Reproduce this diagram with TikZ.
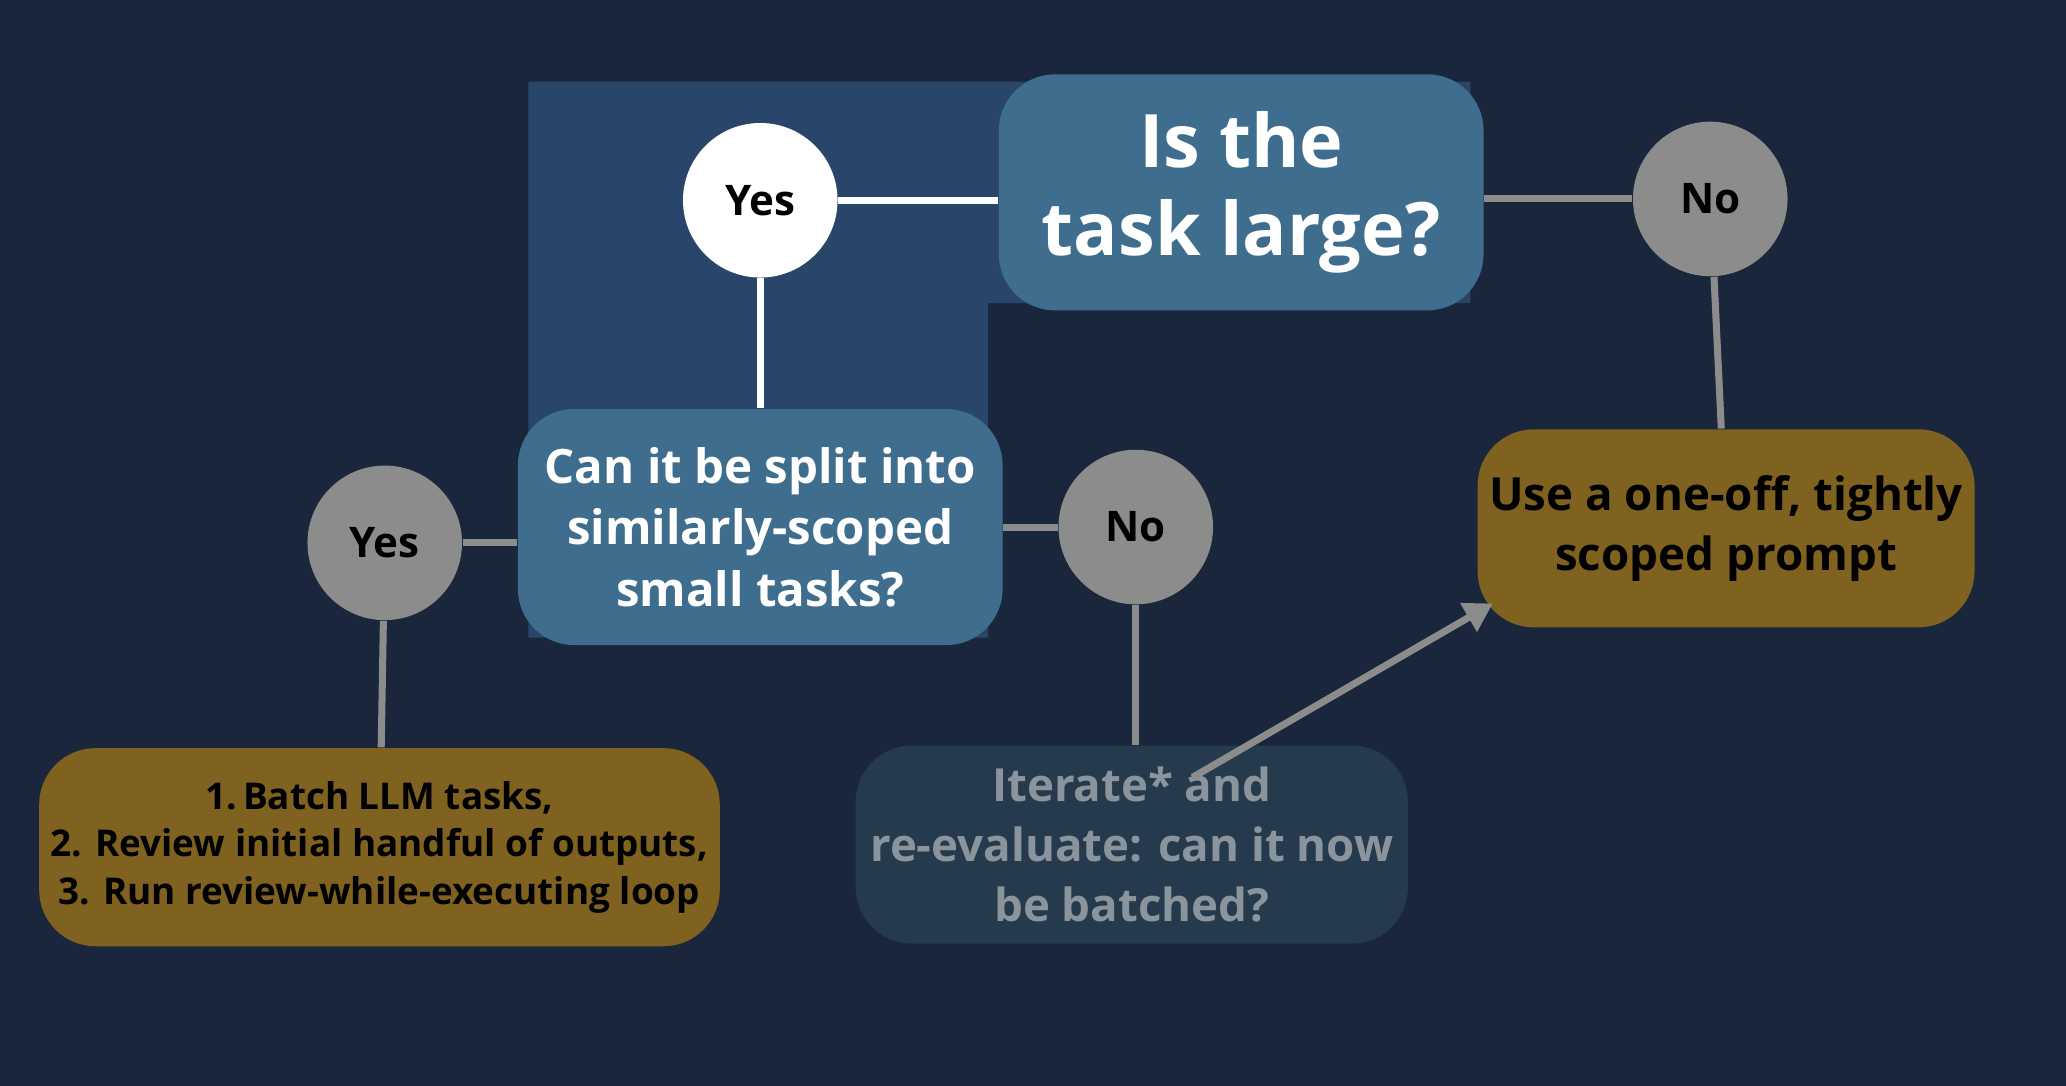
\documentclass[tikz,border=0pt]{standalone}
\usepackage{fontspec}
\setmainfont{Open Sans}
\usetikzlibrary{arrows.meta}
\definecolor{bgdark}{RGB}{26,38,59}
\definecolor{bghi}{RGB}{41,69,106}
\definecolor{qblue}{RGB}{63,109,142}
\definecolor{gold}{RGB}{127,97,32}
\definecolor{slate}{RGB}{37,58,77}
\definecolor{circgray}{RGB}{140,140,140}
\definecolor{txtgray}{RGB}{138,148,156}
\begin{document}
\begin{tikzpicture}[
    x=0.013176cm, y=-0.013176cm,
    question/.style={rectangle, rounded corners=16pt, fill=qblue, text=white, align=center, font=\bfseries},
    result/.style={rectangle, rounded corners=16pt, fill=gold, text=black, align=center, font=\bfseries},
    answer/.style={circle, minimum size=110\pgflinewidth, inner sep=0pt, font=\bfseries\large},
    link/.style={line width=2pt, draw=circgray},
    arrow/.style={link, -{Triangle[length=8pt, width=9pt]}}
]
\pgfsetlinewidth{0.4pt}

% Hintergrund
\fill[bgdark] (0,0) rectangle (1568,824);
\fill[bghi] (401,62) -- (1116,62) -- (1116,230) -- (750,230) -- (750,484) -- (401,484) -- cycle;

% Fragen
\node[question, minimum width=345\pgflinewidth, minimum height=168\pgflinewidth, font=\bfseries\fontsize{21}{25}\selectfont] (large) at (942,146) {Is the\\task large?};
\node[question, minimum width=345\pgflinewidth, minimum height=168\pgflinewidth, font=\bfseries\fontsize{13.5}{17.5}\selectfont] (split) at (577,400) {Can it be split into\\similarly-scoped\\small tasks?};

% Antworten
\node[answer, fill=white, text=black] (yes1) at (577,152) {Yes};
\node[answer, fill=circgray, text=black] (no1) at (1298,151) {No};
\node[answer, fill=circgray, text=black] (yes2) at (292,412) {Yes};
\node[answer, fill=circgray, text=black] (no2) at (862,400) {No};

% Ergebnisse
\node[result, minimum width=344\pgflinewidth, minimum height=141\pgflinewidth, font=\bfseries\fontsize{13}{17}\selectfont] (oneoff) at (1310,401) {Use a one-off, tightly\\scoped prompt};
\node[result, minimum width=429\pgflinewidth, minimum height=141\pgflinewidth, font=\bfseries\fontsize{10.5}{13.5}\selectfont] (batch) at (288,643) {1.\,Batch LLM tasks,\\2. Review initial handful of outputs,\\3. Run review-while-executing loop};
\node[question, fill=slate, text=txtgray, minimum width=393\pgflinewidth, minimum height=141\pgflinewidth, font=\bfseries\fontsize{13}{17}\selectfont] (iterate) at (859,641) {Iterate* and\\re-evaluate: can it now\\be batched?};

% Verbindungen
\draw[link, draw=white] (yes1) -- (large.west |- yes1);
\draw[link, draw=white] (yes1) -- (split);
\draw[link] (large.east |- no1) -- (no1);
\draw[link] (no1) -- (oneoff);
\draw[link] (split.west |- yes2) -- (yes2);
\draw[link] (yes2) -- (batch);
\draw[link] (split.east |- no2) -- (no2);
\draw[link] (no2) -- (no2 |- iterate.north);
\coordinate (start) at (905,590);
\draw[arrow] (start) -- (1133,458);
\end{tikzpicture}
\end{document}
